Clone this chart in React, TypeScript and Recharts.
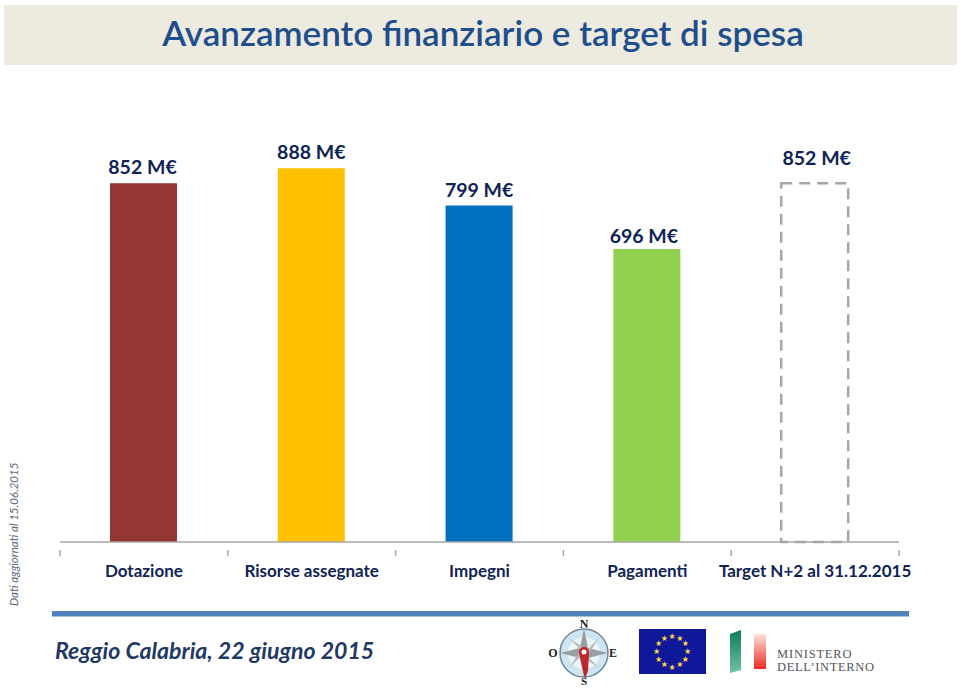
import React from "react";
import { BarChart, Bar, XAxis, YAxis, Cell, LabelList } from "recharts";

const categories = ["Dotazione", "Risorse assegnate", "Impegni", "Pagamenti", "Target N+2 al 31.12.2015"];
const values = [852, 888, 799, 696, 852];
const colors = ["#943634", "#FFC000", "#0070C0", "#92D050", "none"];
const rows = categories.map((name, i) => ({ name, value: values[i] }));

const FONT = "Lato, Carlito, sans-serif";
const NAVY = "#0F2356";
const W = 960;
const H = 688;
const ML = 60;
const MR = 61;
const band = (W - ML - MR) / categories.length;
const labelDx = [-1, 0, 0, -3, 2];
const labelDy = [0, 0, 0, 3, -9];

const Tick = (props: any) => {
  const { x, y, payload, index } = props;
  const left = x - band / 2;
  return (
    <g>
      <line x1={left} x2={left} y1={y} y2={y + 6} stroke="#A6A6A6" strokeWidth={1.5} />
      {index === categories.length - 1 && (
        <line x1={left + band} x2={left + band} y1={y} y2={y + 6} stroke="#A6A6A6" strokeWidth={1.5} />
      )}
      <text x={x} y={y + 35} dy={-8} textAnchor="middle" fontFamily={FONT} fontWeight={700} fontSize={17} fill={NAVY}>
        {payload.value}
      </text>
    </g>
  );
};

const BarLabel = (props: any) => {
  const { x, y, width, value, index } = props;
  return (
    <text
      x={x + width / 2 + labelDx[index]}
      y={y - 9 + labelDy[index]}
      textAnchor="middle"
      fontFamily={FONT}
      fontWeight={700}
      fontSize={19.5}
      fill={NAVY}
    >
      {`${value} M€`}
    </text>
  );
};

const Decor = () => (
  <svg width={W} height={H} style={{ position: "absolute", left: 0, top: 0 }}>
    <defs>
      <linearGradient id="red" x1="0" y1="0" x2="0" y2="1">
        <stop offset="0" stopColor="#FBE3D8" />
        <stop offset="1" stopColor="#EE2A24" />
      </linearGradient>
      <linearGradient id="green" x1="0" y1="0" x2="0" y2="1">
        <stop offset="0" stopColor="#0E7C5C" />
        <stop offset="1" stopColor="#6FC3A2" />
      </linearGradient>
    </defs>
    <rect x={4} y={5} width={953} height={60} fill="#EDEAE0" />
    <text x={483} y={46} textAnchor="middle" fontFamily={FONT} fontWeight={600} fontSize={35} fill="#1F4E8C">
      Avanzamento finanziario e target di spesa
    </text>
    <text transform="translate(18,606) rotate(-90)" fontFamily={FONT} fontStyle="italic" fontSize={11.5} fill="#5A6A80">
      Dati  aggiornati al 15.06.2015
    </text>
    <rect x={52} y={611} width={857} height={5.5} fill="#4F81BD" />
    <text x={55} y={659} fontFamily={FONT} fontStyle="italic" fontWeight={700} fontSize={23.1} fill="#1F3864">
      Reggio Calabria, 22 giugno 2015
    </text>
    <g transform="translate(584,653)">
      <circle r={24} fill="#CFE6F2" stroke="#6E8796" strokeWidth={1.5} />
      <circle r={16} fill="#EAF4F9" />
      <polygon points="0,-25 4,-5 24,0 4,5 0,25 -4,5 -24,0 -4,-5" fill="#9A9FA3" />
      <polygon points="-15,-15 3,-3 15,-15 3,3 15,15 -3,3 -15,15 -3,-3" fill="#B5B9BC" />
      <polygon points="-5,0 5,0 4,18 1,26" fill="#C0272D" />
      <circle cy={-1} r={5} fill="#C0272D" />
      <circle cy={-1} r={2.5} fill="#FFFFFF" />
      <text x={0} y={-25} textAnchor="middle" fontFamily="Liberation Serif" fontWeight={700} fontSize={12} fill="#222">N</text>
      <text x={0} y={32} textAnchor="middle" fontFamily="Liberation Serif" fontWeight={700} fontSize={11} fill="#222">S</text>
      <text x={-31} y={4} textAnchor="middle" fontFamily="Liberation Serif" fontWeight={700} fontSize={12} fill="#222">O</text>
      <text x={29} y={4} textAnchor="middle" fontFamily="Liberation Serif" fontWeight={700} fontSize={12} fill="#222">E</text>
    </g>
    <rect x={639} y={629} width={67} height={45} fill="#10189A" />
    <g fontSize={8} fill="#FFD93B" textAnchor="middle" fontFamily="DejaVu Sans">
      {[0, 30, 60, 90, 120, 150, 180, 210, 240, 270, 300, 330].map((a) => (
        <text key={a} x={672 + 15.5 * Math.sin((a * Math.PI) / 180)} y={654 - 15.5 * Math.cos((a * Math.PI) / 180)}>★</text>
      ))}
    </g>
    <polygon points="730,634 741,630 741,670 730,673" fill="url(#green)" />
    <rect x={754} y={634} width={12} height={35} fill="url(#red)" />
    <text x={777} y={658} fontFamily="Liberation Serif" fontSize={12.5} letterSpacing={0.8} fill="#555">MINISTERO</text>
    <text x={777} y={671} fontFamily="Liberation Serif" fontSize={12.5} letterSpacing={0.65} fill="#555">DELL’INTERNO</text>
  </svg>
);

export default function App() {
  return (
    <div style={{ position: "absolute", left: 0, top: 0, width: W, height: H, background: "#fff", overflow: "hidden" }}>
      <Decor />
      <div style={{ position: "absolute", left: 0, top: 0 }}>
        <BarChart width={W} height={H} data={rows} margin={{ top: 121, right: MR, bottom: 0, left: ML }} barCategoryGap={0}>
          <YAxis hide domain={[0, 1000]} />
          <XAxis
            dataKey="name"
            interval={0}
            axisLine={{ stroke: "#A6A6A6", strokeWidth: 1.5 }}
            tickLine={false}
            tick={<Tick />}
            height={146}
          />
          <Bar dataKey="value" barSize={67} isAnimationActive={false}>
            {rows.map((r, i) =>
              colors[i] === "none" ? (
                <Cell key={r.name} fill="none" stroke="#A6A6A6" strokeWidth={2.5} strokeDasharray="11 7" />
              ) : (
                <Cell key={r.name} fill={colors[i]} />
              )
            )}
            <LabelList dataKey="value" content={<BarLabel />} />
          </Bar>
        </BarChart>
      </div>
    </div>
  );
}
